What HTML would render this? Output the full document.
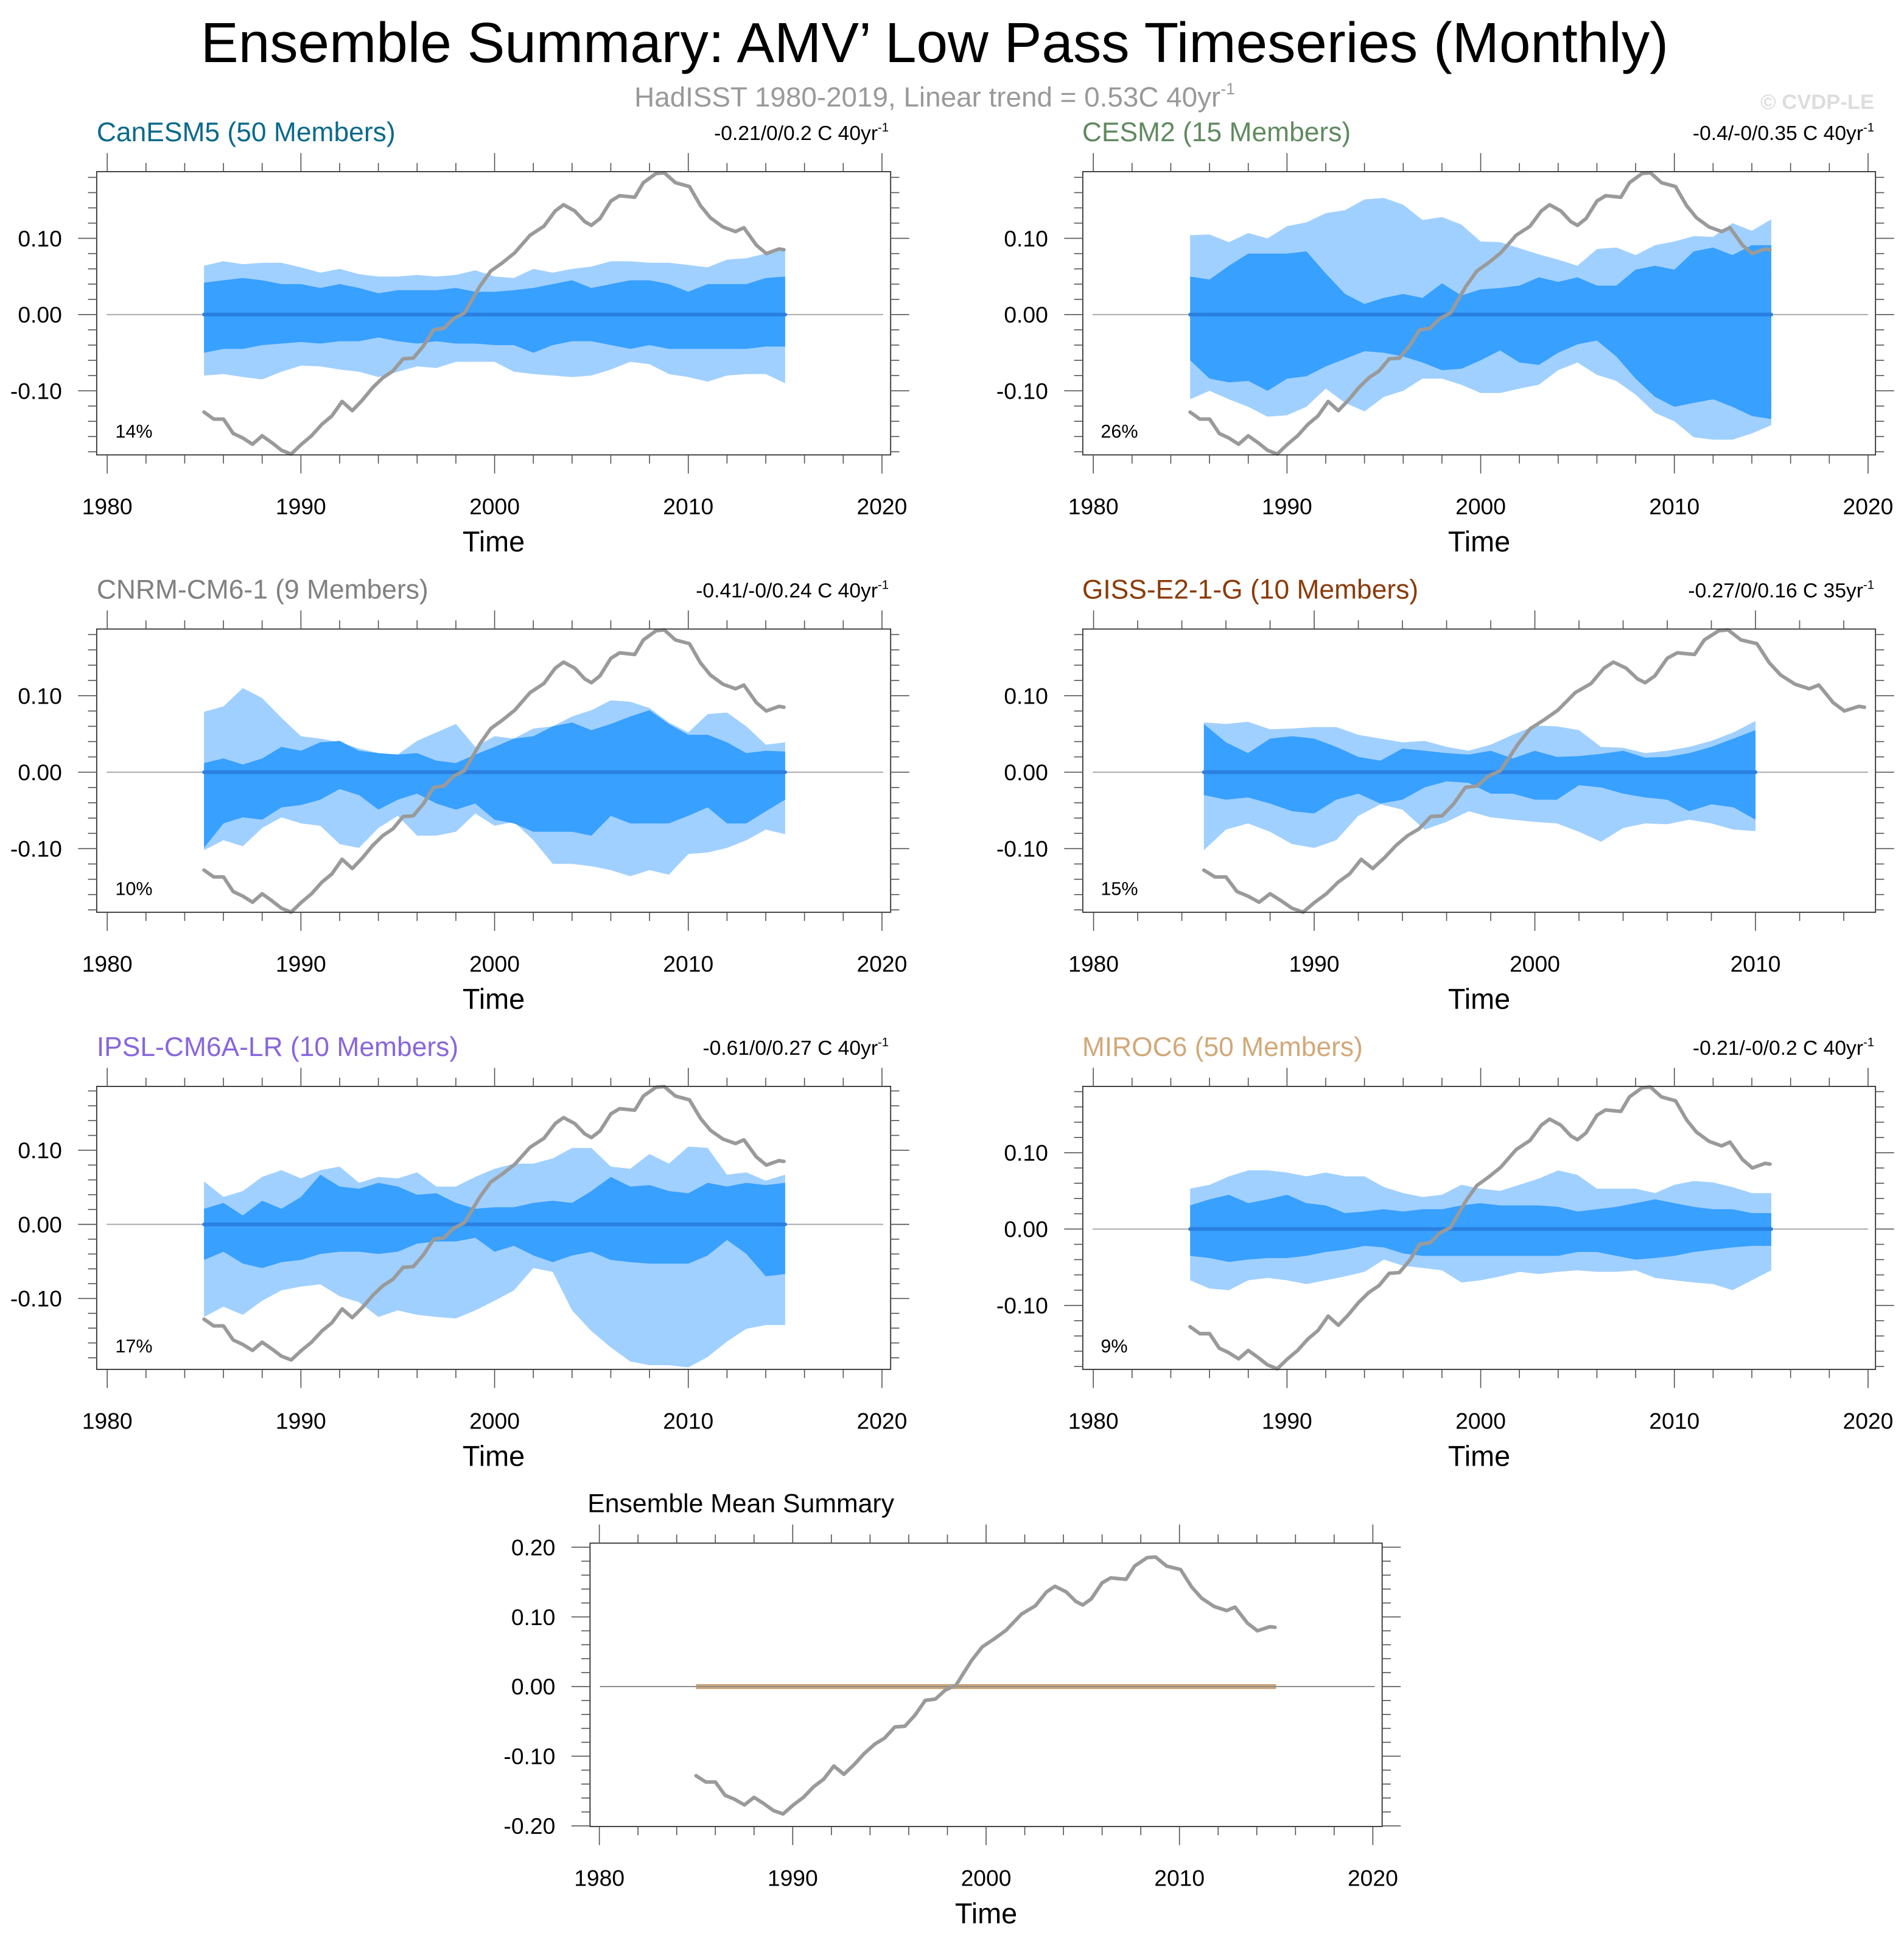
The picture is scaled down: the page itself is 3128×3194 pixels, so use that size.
<!DOCTYPE html>
<html><head><meta charset="utf-8"><style>
html,body{margin:0;padding:0;background:#fff;}
svg{display:block;font-family:"Liberation Sans",Arial,sans-serif;}
</style></head><body>
<svg id="chart" width="3128" height="3194" viewBox="0 0 1536 1568.4" xmlns="http://www.w3.org/2000/svg">
<rect x="0" y="0" width="1536" height="1568.4" fill="#fff"/>
<text x="754" y="50" text-anchor="middle" font-size="45.5" fill="#000">Ensemble Summary: AMV’ Low Pass Timeseries (Monthly)</text>
<text x="754" y="86" text-anchor="middle" font-size="22.5" fill="#999">HadISST 1980-2019, Linear trend = 0.53C 40yr<tspan font-size="13" dy="-10">-1</tspan></text>
<text x="1512" y="88" text-anchor="end" font-size="17" font-weight="bold" fill="#ddd">© CVDP-LE</text>

<text x="78" y="114" font-size="21.8" fill="#0a6a8a">CanESM5 (50 Members)</text>
<text x="717" y="113" text-anchor="end" font-size="16.5" fill="#000">-0.21/0/0.2 C 40yr<tspan font-size="10" dy="-7">-1</tspan></text>
<text x="93" y="353" font-size="15" fill="#000">14%</text>

<text x="873" y="114" font-size="21.8" fill="#5f8a5f">CESM2 (15 Members)</text>
<text x="1512" y="113" text-anchor="end" font-size="16.5" fill="#000">-0.4/-0/0.35 C 40yr<tspan font-size="10" dy="-7">-1</tspan></text>
<text x="888" y="353" font-size="15" fill="#000">26%</text>

<text x="78" y="483" font-size="21.8" fill="#808080">CNRM-CM6-1 (9 Members)</text>
<text x="717" y="482" text-anchor="end" font-size="16.5" fill="#000">-0.41/-0/0.24 C 40yr<tspan font-size="10" dy="-7">-1</tspan></text>
<text x="93" y="722" font-size="15" fill="#000">10%</text>

<text x="873" y="483" font-size="21.8" fill="#8b3a08">GISS-E2-1-G (10 Members)</text>
<text x="1512" y="482" text-anchor="end" font-size="16.5" fill="#000">-0.27/0/0.16 C 35yr<tspan font-size="10" dy="-7">-1</tspan></text>
<text x="888" y="722" font-size="15" fill="#000">15%</text>

<text x="78" y="852" font-size="21.8" fill="#8866dd">IPSL-CM6A-LR (10 Members)</text>
<text x="717" y="851" text-anchor="end" font-size="16.5" fill="#000">-0.61/0/0.27 C 40yr<tspan font-size="10" dy="-7">-1</tspan></text>
<text x="93" y="1091" font-size="15" fill="#000">17%</text>

<text x="873" y="852" font-size="21.8" fill="#d2a878">MIROC6 (50 Members)</text>
<text x="1512" y="851" text-anchor="end" font-size="16.5" fill="#000">-0.21/-0/0.2 C 40yr<tspan font-size="10" dy="-7">-1</tspan></text>
<text x="888" y="1091" font-size="15" fill="#000">9%</text>

<text x="474" y="1220" font-size="21" fill="#000">Ensemble Mean Summary</text>
<g id="plots"></g>
</svg>
<script>
// ---- data ----
const obsYears = [1985,1985.5,1986,1986.5,1987,1987.5,1988,1988.5,1989,1989.5,1990.03,1990.55,1991.08,1991.6,1992.13,1992.65,1993.18,1993.7,1994.23,1994.75,1995.28,1995.8,1996.33,1996.85,1997.38,1997.9,1998.44,1999.24,1999.8,2000.4,2001.04,2001.83,2002.55,2003.13,2003.56,2004.14,2004.65,2005.0,2005.44,2006.0,2006.45,2007.24,2007.68,2008.33,2008.76,2009.34,2010.06,2010.63,2011.14,2011.79,2012.44,2012.87,2013.52,2014.03,2014.68,2014.94];
const obsValues = [-0.128,-0.137,-0.137,-0.156,-0.162,-0.170,-0.159,-0.168,-0.178,-0.183,-0.170,-0.159,-0.144,-0.133,-0.114,-0.126,-0.112,-0.096,-0.083,-0.074,-0.058,-0.057,-0.041,-0.020,-0.018,-0.005,0.002,0.037,0.057,0.068,0.081,0.104,0.116,0.136,0.144,0.136,0.122,0.117,0.126,0.149,0.156,0.154,0.173,0.185,0.186,0.173,0.168,0.143,0.127,0.115,0.109,0.114,0.091,0.080,0.086,0.085];
const bandYears = [1985,1986,1987,1988,1989,1990,1991,1992,1993,1994,1995,1996,1997,1998,1999,2000,2001,2002,2003,2004,2005,2006,2007,2008,2009,2010,2011,2012,2013,2014,2015];
const gissYears = [1985,1986,1987,1988,1989,1990,1991,1992,1993,1994,1995,1996,1997,1998,1999,2000,2001,2002,2003,2004,2005,2006,2007,2008,2009,2010];

const canOuterHi = [0.064,0.07,0.066,0.068,0.068,0.062,0.055,0.06,0.053,0.05,0.05,0.052,0.05,0.052,0.058,0.05,0.048,0.06,0.055,0.06,0.063,0.07,0.07,0.068,0.068,0.065,0.062,0.072,0.074,0.08,0.085];
const canInnerHi = [0.042,0.045,0.048,0.045,0.04,0.04,0.035,0.04,0.035,0.028,0.032,0.032,0.032,0.035,0.03,0.03,0.032,0.035,0.04,0.045,0.035,0.04,0.045,0.045,0.04,0.03,0.04,0.04,0.04,0.048,0.05];
const canInnerLo = [-0.05,-0.045,-0.045,-0.04,-0.038,-0.036,-0.038,-0.035,-0.035,-0.03,-0.035,-0.038,-0.035,-0.038,-0.038,-0.04,-0.04,-0.05,-0.04,-0.035,-0.035,-0.04,-0.045,-0.04,-0.045,-0.045,-0.045,-0.045,-0.045,-0.042,-0.042];
const canOuterLo = [-0.08,-0.078,-0.082,-0.085,-0.075,-0.067,-0.068,-0.072,-0.075,-0.082,-0.075,-0.068,-0.07,-0.062,-0.062,-0.062,-0.075,-0.078,-0.08,-0.082,-0.08,-0.072,-0.062,-0.065,-0.078,-0.082,-0.088,-0.08,-0.078,-0.078,-0.09];

const cesmOuterHi = [0.104,0.105,0.095,0.107,0.10,0.116,0.121,0.133,0.137,0.151,0.153,0.144,0.124,0.128,0.118,0.096,0.095,0.087,0.079,0.072,0.064,0.086,0.088,0.078,0.091,0.096,0.103,0.102,0.12,0.11,0.125];
const cesmInnerHi = [0.05,0.046,0.064,0.08,0.08,0.08,0.083,0.054,0.027,0.014,0.022,0.027,0.022,0.041,0.025,0.033,0.035,0.038,0.049,0.043,0.049,0.038,0.038,0.059,0.064,0.059,0.083,0.088,0.078,0.091,0.091];
const cesmInnerLo = [-0.06,-0.084,-0.089,-0.087,-0.1,-0.084,-0.081,-0.068,-0.058,-0.048,-0.05,-0.055,-0.063,-0.073,-0.071,-0.06,-0.047,-0.063,-0.066,-0.05,-0.039,-0.034,-0.055,-0.084,-0.108,-0.121,-0.116,-0.111,-0.121,-0.133,-0.137];
const cesmOuterLo = [-0.111,-0.1,-0.111,-0.121,-0.134,-0.132,-0.121,-0.097,-0.116,-0.127,-0.108,-0.1,-0.084,-0.084,-0.092,-0.103,-0.103,-0.097,-0.092,-0.073,-0.063,-0.079,-0.087,-0.105,-0.129,-0.14,-0.161,-0.164,-0.164,-0.156,-0.145];

const cnrmOuterHi = [0.079,0.086,0.11,0.097,0.071,0.047,0.044,0.039,0.031,0.025,0.023,0.041,0.052,0.063,0.033,0.047,0.044,0.057,0.06,0.073,0.081,0.094,0.092,0.084,0.065,0.052,0.076,0.078,0.06,0.036,0.039];
const cnrmInnerHi = [0.012,0.018,0.01,0.018,0.033,0.028,0.039,0.041,0.028,0.025,0.023,0.025,0.015,0.012,0.023,0.033,0.044,0.047,0.06,0.065,0.055,0.063,0.073,0.081,0.063,0.049,0.049,0.039,0.025,0.028,0.027];
const cnrmInnerLo = [-0.099,-0.067,-0.059,-0.062,-0.046,-0.043,-0.036,-0.022,-0.03,-0.049,-0.036,-0.028,-0.041,-0.049,-0.041,-0.062,-0.067,-0.078,-0.078,-0.078,-0.083,-0.057,-0.067,-0.067,-0.067,-0.057,-0.046,-0.067,-0.067,-0.051,-0.036];
const cnrmOuterLo = [-0.102,-0.089,-0.097,-0.073,-0.059,-0.067,-0.07,-0.094,-0.099,-0.073,-0.057,-0.083,-0.083,-0.078,-0.054,-0.07,-0.065,-0.089,-0.12,-0.12,-0.123,-0.128,-0.136,-0.128,-0.134,-0.107,-0.105,-0.099,-0.089,-0.075,-0.081];

const gissOuterHi = [0.065,0.063,0.066,0.056,0.057,0.059,0.059,0.049,0.044,0.039,0.041,0.033,0.028,0.036,0.049,0.061,0.06,0.055,0.033,0.032,0.025,0.028,0.033,0.041,0.052,0.067];
const gissInnerHi = [0.063,0.039,0.025,0.044,0.047,0.044,0.033,0.02,0.015,0.031,0.028,0.025,0.023,0.028,0.018,0.028,0.02,0.021,0.024,0.028,0.019,0.02,0.025,0.033,0.044,0.055];
const gissInnerLo = [-0.03,-0.036,-0.033,-0.041,-0.051,-0.054,-0.036,-0.028,-0.041,-0.036,-0.02,-0.012,-0.014,-0.028,-0.028,-0.036,-0.036,-0.017,-0.02,-0.028,-0.033,-0.036,-0.051,-0.042,-0.046,-0.062];
const gissOuterLo = [-0.102,-0.075,-0.067,-0.078,-0.094,-0.099,-0.089,-0.057,-0.042,-0.049,-0.075,-0.065,-0.051,-0.059,-0.062,-0.065,-0.067,-0.078,-0.091,-0.073,-0.067,-0.068,-0.062,-0.067,-0.075,-0.077];

const ipslOuterHi = [0.058,0.037,0.045,0.064,0.073,0.062,0.073,0.078,0.056,0.064,0.062,0.07,0.051,0.051,0.064,0.075,0.082,0.082,0.089,0.103,0.103,0.078,0.075,0.095,0.082,0.105,0.103,0.067,0.07,0.059,0.067];
const ipslInnerHi = [0.021,0.029,0.012,0.032,0.021,0.037,0.067,0.051,0.048,0.056,0.051,0.04,0.042,0.029,0.021,0.023,0.023,0.029,0.032,0.029,0.045,0.064,0.051,0.053,0.045,0.042,0.056,0.051,0.056,0.053,0.056];
const ipslInnerLo = [-0.048,-0.037,-0.053,-0.059,-0.051,-0.048,-0.04,-0.037,-0.037,-0.04,-0.037,-0.026,-0.023,-0.023,-0.018,-0.037,-0.029,-0.042,-0.051,-0.042,-0.037,-0.048,-0.051,-0.053,-0.053,-0.053,-0.042,-0.021,-0.04,-0.07,-0.067];
const ipslOuterLo = [-0.125,-0.111,-0.122,-0.103,-0.089,-0.084,-0.081,-0.097,-0.105,-0.125,-0.116,-0.122,-0.125,-0.127,-0.116,-0.103,-0.089,-0.059,-0.064,-0.116,-0.144,-0.166,-0.185,-0.19,-0.19,-0.193,-0.179,-0.158,-0.141,-0.136,-0.136];

const mirocOuterHi = [0.053,0.058,0.069,0.077,0.077,0.074,0.069,0.074,0.069,0.069,0.055,0.047,0.042,0.045,0.058,0.053,0.05,0.058,0.066,0.077,0.071,0.053,0.053,0.053,0.047,0.058,0.063,0.061,0.055,0.047,0.047];
const mirocInnerHi = [0.031,0.039,0.045,0.034,0.039,0.045,0.034,0.031,0.021,0.023,0.026,0.023,0.026,0.026,0.031,0.034,0.031,0.031,0.031,0.029,0.023,0.026,0.029,0.034,0.039,0.034,0.029,0.026,0.026,0.021,0.021];
const mirocInnerLo = [-0.035,-0.038,-0.043,-0.04,-0.038,-0.038,-0.035,-0.03,-0.027,-0.022,-0.024,-0.032,-0.035,-0.035,-0.035,-0.035,-0.035,-0.035,-0.035,-0.035,-0.03,-0.03,-0.035,-0.04,-0.038,-0.035,-0.03,-0.027,-0.024,-0.022,-0.022];
const mirocOuterLo = [-0.067,-0.078,-0.08,-0.067,-0.064,-0.067,-0.072,-0.067,-0.062,-0.056,-0.04,-0.048,-0.051,-0.054,-0.07,-0.067,-0.062,-0.056,-0.059,-0.056,-0.054,-0.056,-0.056,-0.054,-0.064,-0.067,-0.07,-0.072,-0.08,-0.067,-0.054];

const ensMeanYears = [1985,2015];
const ensMeanValues = [0,0];
const xTickYears = [1980,1990,2000,2010,2020];
const xTickLabels = ["1980","1990","2000","2010","2020"];
const gissTickYears = [1980,1990,2000,2010];
const gissTickLabels = ["1980","1990","2000","2010"];
const yTickVals = [0.1,0,-0.1];
const yTickLabels = ["0.10","0.00","-0.10"];
const yTickValsMean = [0.2,0.1,0,-0.1,-0.2];
const yTickLabelsMean = ["0.20","0.10","0.00","-0.10","-0.20"];

// ---- layout (geometry only) ----
const panels = [
 {id:'canesm5', L:78, R:718.5, T:138.5, B:367, y0:253.8, y1:192.3, x80:86.5, x20:711.5, yrs:bandYears, bands:[canOuterHi,canInnerHi,canInnerLo,canOuterLo], xt:xTickYears, xl:xTickLabels},
 {id:'cesm2', L:873.5, R:1513, T:138.5, B:367, y0:253.8, y1:192.3, x80:882, x20:1507, yrs:bandYears, bands:[cesmOuterHi,cesmInnerHi,cesmInnerLo,cesmOuterLo], xt:xTickYears, xl:xTickLabels},
 {id:'cnrm', L:78, R:718.5, T:507.5, B:736, y0:623, y1:561.3, x80:86.5, x20:711.5, yrs:bandYears, bands:[cnrmOuterHi,cnrmInnerHi,cnrmInnerLo,cnrmOuterLo], xt:xTickYears, xl:xTickLabels},
 {id:'giss', L:873.5, R:1513, T:507.5, B:736, y0:623, y1:561.3, x80:882.2, x20:1416.2+(1416.2-882.2)/3, yrs:gissYears, bands:[gissOuterHi,gissInnerHi,gissInnerLo,gissOuterLo], xt:gissTickYears, xl:gissTickLabels},
 {id:'ipsl', L:78, R:718.5, T:876.5, B:1104.8, y0:987.8, y1:928, x80:86.5, x20:711.5, yrs:bandYears, bands:[ipslOuterHi,ipslInnerHi,ipslInnerLo,ipslOuterLo], xt:xTickYears, xl:xTickLabels},
 {id:'miroc6', L:873.5, R:1513, T:876.5, B:1104.8, y0:991.6, y1:930, x80:882, x20:1507, yrs:bandYears, bands:[mirocOuterHi,mirocInnerHi,mirocInnerLo,mirocOuterLo], xt:xTickYears, xl:xTickLabels},
 {id:'ensemble-mean', L:476, R:1115, T:1245, B:1473.6, y0:1360.7, y1:1304.5, x80:483.5, x20:1107.5, yrs:null, bands:null, xt:xTickYears, xl:xTickLabels, mean:true}
];

const NS='http://www.w3.org/2000/svg';
const root=document.getElementById('plots');
function mk(tag,attrs,parent){const e=document.createElementNS(NS,tag);for(const k in attrs)e.setAttribute(k,attrs[k]);(parent||root).appendChild(e);return e;}

panels.forEach(p=>{
  const g=mk('g',{});
  
  
  const xs=yr=>p.x80+(yr-1980)*(p.x20-p.x80)/40;
  const ys=v=>p.y0-v*(p.y0-p.y1)/0.1;
  const yAt=y=>(p.y0-y)/(p.y0-p.y1)*0.1;
  const vTop=yAt(p.T), vBot=yAt(p.B);
  const yrL=1980+(p.L-p.x80)/((p.x20-p.x80)/40), yrR=1980+(p.R-p.x80)/((p.x20-p.x80)/40);

  if(p.bands){
    const pairs=[[0,3,'#a0d0ff','outer-range-band'],[1,2,'#38a0ff','inner-range-band']];
    pairs.forEach(([hi,lo,col,nm])=>{
      let d='';
      p.yrs.forEach((y,i)=>{d+=(i?'L':'M')+xs(y).toFixed(1)+','+ys(p.bands[hi][i]).toFixed(1);});
      for(let i=p.yrs.length-1;i>=0;i--) d+='L'+xs(p.yrs[i]).toFixed(1)+','+ys(p.bands[lo][i]).toFixed(1);
      const e=mk('path',{d:d+'Z',fill:col},g);
      
      
    });
  }
  const z=mk('line',{x1:p.L+8,x2:p.R-6,y1:ys(0),y2:ys(0),stroke:'#aaa','stroke-width':1},g);
  
  
  if(p.bands){
    const y0=p.yrs[0], y1=p.yrs[p.yrs.length-1];
    const m=mk('line',{x1:xs(y0),x2:xs(y1),y1:ys(0),y2:ys(0),stroke:'#2a80e0','stroke-width':3,'stroke-linecap':'round'},g);
    
    
  } else {
    const pts=ensMeanYears.map((y,i)=>xs(y).toFixed(1)+','+ys(ensMeanValues[i]).toFixed(1)).join(' ');
    const m=mk('polyline',{points:pts,fill:'none',stroke:'#c9a57a','stroke-width':4},g);
    
    
    const z2=mk('line',{x1:p.L+8,x2:p.R-6,y1:ys(0),y2:ys(0),stroke:'#888','stroke-width':0.8},g);
    
    
  }
  const opts=obsYears.map((y,i)=>xs(y).toFixed(1)+','+ys(obsValues[i]).toFixed(1)).join(' ');
  const o=mk('polyline',{points:opts,fill:'none',stroke:'#9a9a9a','stroke-width':2.9,'stroke-linejoin':'round','stroke-linecap':'round'},g);
  
  
  const b=mk('rect',{x:p.L,y:p.T,width:p.R-p.L,height:p.B-p.T,fill:'none',stroke:'#333','stroke-width':0.9},g);
  
  
  const tk=mk('g',{stroke:'#555','stroke-width':0.8},g);
  
  
  for(let yr=Math.ceil(yrL/2)*2; yr<=yrR; yr+=2){
    const major=yr%10===0, len=major?15:7, x=xs(yr);
    mk('line',{x1:x,x2:x,y1:p.B,y2:p.B+len},tk);
    mk('line',{x1:x,x2:x,y1:p.T,y2:p.T-len},tk);
  }
  p.xt.forEach((yr,i)=>{
    const t=mk('text',{x:xs(yr),y:p.B+48,'text-anchor':'middle','font-size':18.3,fill:'#000'},g);
    t.textContent=p.xl[i];
    
    
  });
  const xt=mk('text',{x:(p.L+p.R)/2,y:p.B+78,'text-anchor':'middle','font-size':23,fill:'#000'},g);
  xt.textContent='Time';
  
  
  const ty=mk('g',{stroke:'#555','stroke-width':0.8},g);
  
  
  for(let k=Math.ceil(vBot/0.02-1e-6); k*0.02<=vTop+1e-9; k++){
    const major=Math.abs(k%5)===0, len=major?15:7, y=ys(k*0.02);
    mk('line',{x1:p.L,x2:p.L-len,y1:y,y2:y},ty);
    mk('line',{x1:p.R,x2:p.R+len,y1:y,y2:y},ty);
  }
  const vals=p.mean?yTickValsMean:yTickVals, labs=p.mean?yTickLabelsMean:yTickLabels;
  vals.forEach((v,i)=>{
    const t=mk('text',{x:p.L-28,y:ys(v)+6.5,'text-anchor':'end','font-size':18.3,fill:'#000'},g);
    t.textContent=labs[i];
    
    
  });
});
</script>
</body></html>
